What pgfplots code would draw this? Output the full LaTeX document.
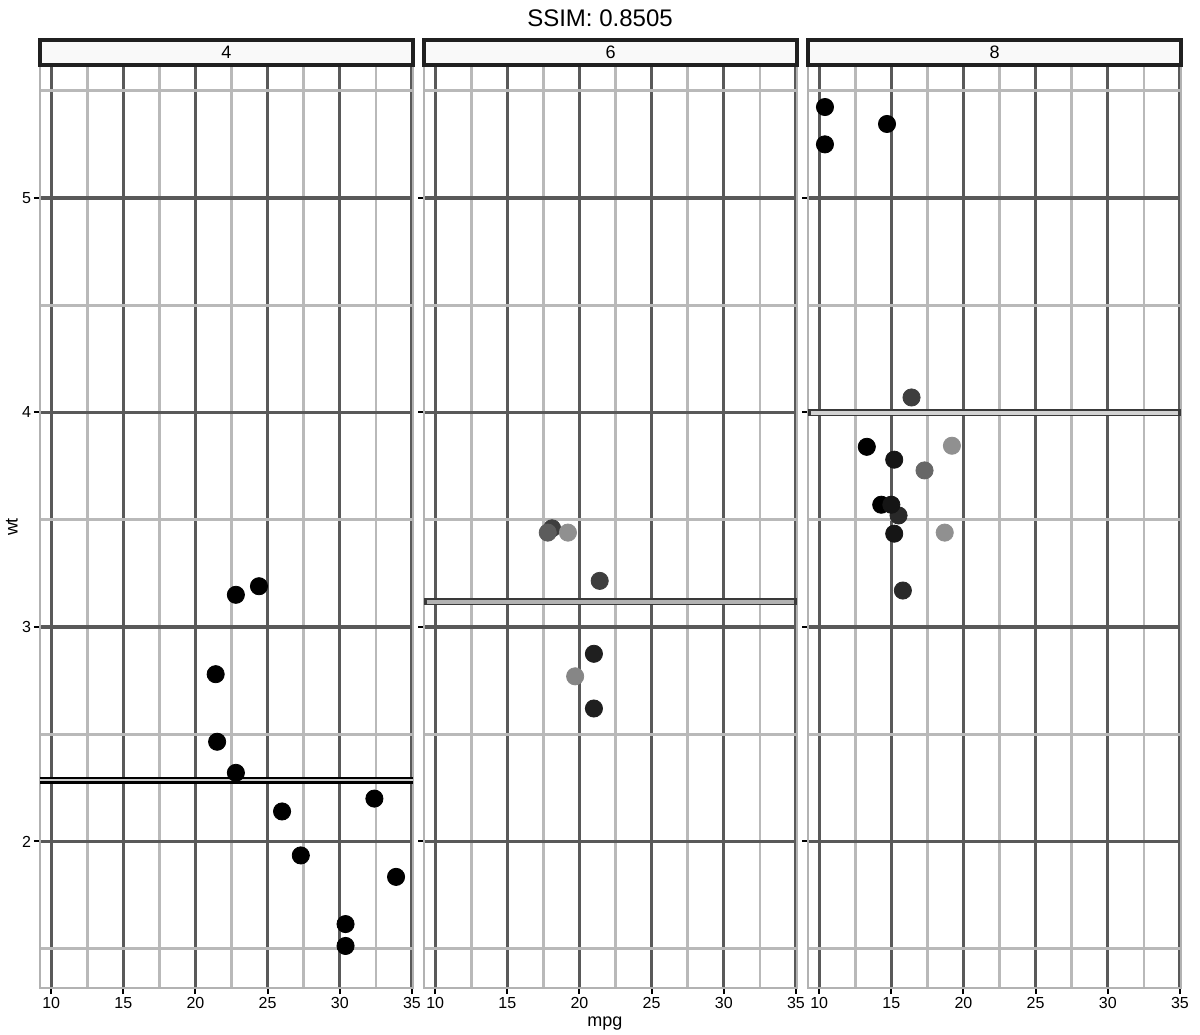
\documentclass[border=0pt]{standalone}
\usepackage{pgfplots}
\pgfplotsset{compat=1.18}
\usepackage{fontspec}
\setmainfont{Liberation Sans}
\begin{document}
\begin{tikzpicture}
\useasboundingbox (0pt,0pt) rectangle (600pt,517pt);
\pgfplotsset{
 panel/.style={
  name=#1, anchor=south west, scale only axis, width=186.5pt, height=461.5pt,
  xmin=9.225, xmax=35.075, ymin=1.317, ymax=5.62,
  xtick={10,15,20,25,30,35}, ytick={2,3,4,5},
  minor xtick={12.5,17.5,22.5,27.5,32.5}, minor ytick={1.5,2.5,3.5,4.5,5.5},
  grid=both,
  major grid style={draw=gray!70!black, line width=1.6pt},
  minor grid style={draw=gray!55, line width=1.3pt},
  axis line style={draw=gray!60, line width=1pt},
  tick align=outside, xtick pos=lower, ytick pos=left,
  major tick length=3pt, minor tick length=0pt,
  tick style={draw=black, line width=1pt},
  /pgf/number format/assume math mode=true,
  tick label style={font=\fontsize{8}{9}\selectfont},
  xticklabel style={yshift=2pt},
  yticklabel style={xshift=2pt},
  colormap={bw}{gray(0cm)=(0); gray(1cm)=(0.8)},
  point meta min=0, point meta max=1,
 },
 pts/.style={scatter, only marks, mark=*, mark size=4.3pt, point meta=explicit,
  scatter/use mapped color={draw=mapped color, fill=mapped color}},
}
% Panel cyl = 4
\begin{axis}[panel=p1, at={(20pt,23pt)}]
\addplot[black, line width=3.5pt] coordinates {(9.225,2.2857) (35.075,2.2857)};
\addplot[gray!40, line width=0.8pt] coordinates {(9.225,2.2857) (35.075,2.2857)};
\addplot[pts] table[meta=c] {
x y c
22.8 2.320 0
24.4 3.190 0
22.8 3.150 0
32.4 2.200 0
30.4 1.615 0
33.9 1.835 0
21.5 2.465 0
27.3 1.935 0
26.0 2.140 0
30.4 1.513 0
21.4 2.780 0
};
\end{axis}
% Panel cyl = 6
\begin{axis}[panel=p2, at={(212pt,23pt)}, yticklabels={}]
\addplot[gray!45!black, line width=3.5pt] coordinates {(9.225,3.1171) (35.075,3.1171)};
\addplot[gray!60, line width=2pt] coordinates {(9.4,3.1171) (34.9,3.1171)};
\addplot[pts] table[meta=c] {
x y c
21.0 2.620 0.15
21.0 2.875 0.15
21.4 3.215 0.3
18.1 3.460 0.3
19.2 3.440 0.7
17.8 3.440 0.45
19.7 2.770 0.65
};
\end{axis}
% Panel cyl = 8
\begin{axis}[panel=p3, at={(404pt,23pt)}, yticklabels={}]
\addplot[gray!45!black, line width=3.5pt] coordinates {(9.225,3.9991) (35.075,3.9991)};
\addplot[gray!35, line width=2pt] coordinates {(9.4,3.9991) (34.9,3.9991)};
\addplot[pts] table[meta=c] {
x y c
18.7 3.440 0.7
14.3 3.570 0
16.4 4.070 0.3
17.3 3.730 0.5
15.2 3.780 0.1
10.4 5.250 0
10.4 5.424 0
14.7 5.345 0
15.5 3.520 0.2
15.2 3.435 0.1
13.3 3.840 0
19.2 3.845 0.7
15.8 3.170 0.2
15.0 3.570 0.1
};
\end{axis}
% strips
\foreach \p/\l in {p1/4,p2/6,p3/8}{
 \draw[gray!25!black, line width=1.6pt, fill=gray!5] (\p.north west) rectangle ([yshift=12.5pt]\p.north east);
 \node[font=\fontsize{9}{10}\selectfont] at ([yshift=6.25pt]\p.north) {\l};
}
\node[font=\fontsize{12}{14}\selectfont] at (300pt,508pt) {SSIM: 0.8505};
\node[font=\fontsize{9}{11}\selectfont] at (302.5pt,5pt) {mpg};
\node[font=\fontsize{9}{11}\selectfont, rotate=90] at (6pt,253.5pt) {wt};
\end{tikzpicture}
\end{document}
